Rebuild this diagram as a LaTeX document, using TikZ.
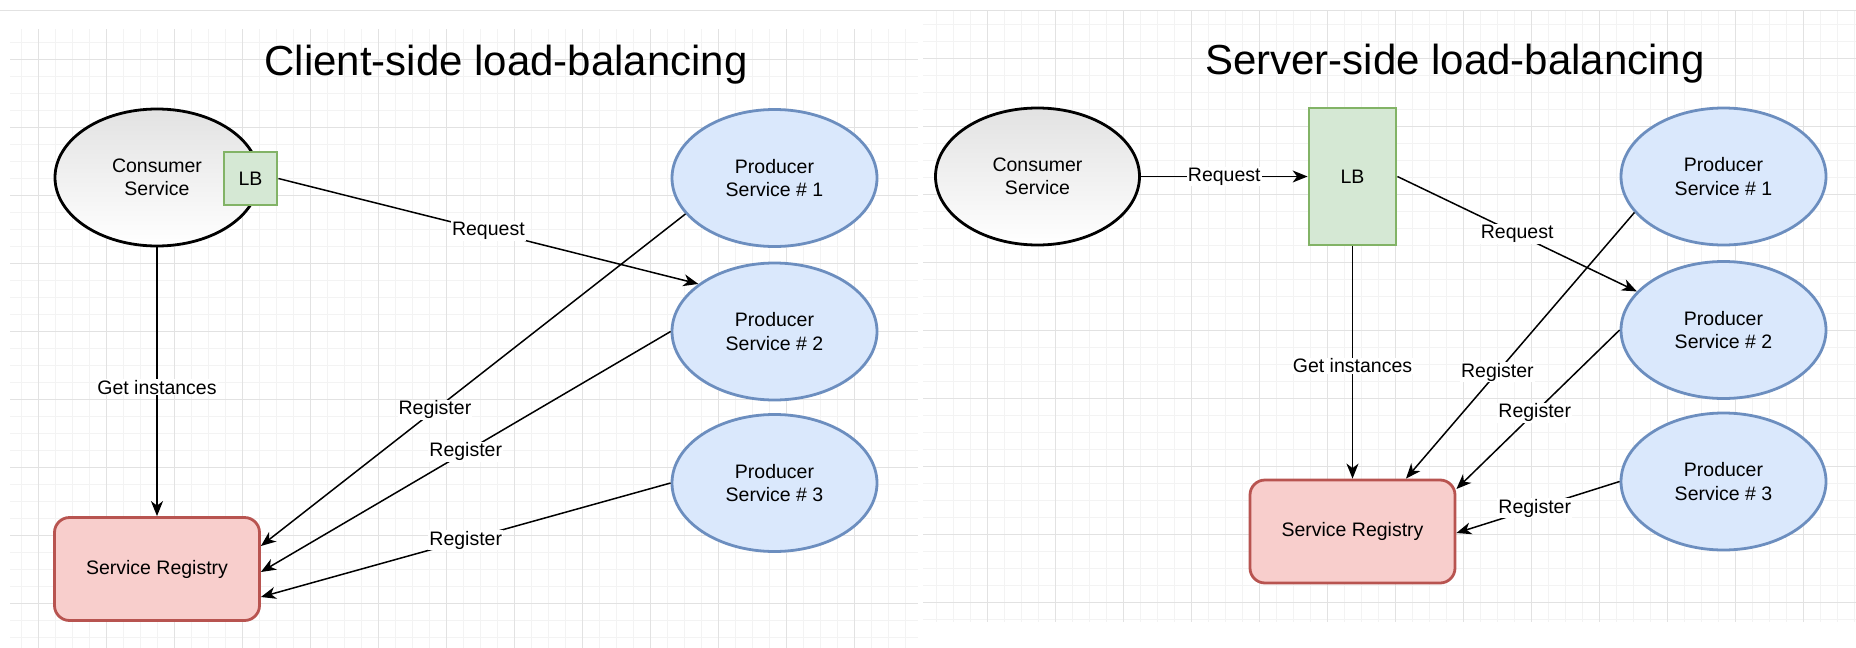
\documentclass[tikz,border=0pt]{standalone}
\usepackage{fontspec}
\setmainfont{Liberation Sans}
\usetikzlibrary{shapes.geometric,arrows.meta}
\definecolor{gridminor}{HTML}{F3F3F3}
\definecolor{gridmajor}{HTML}{E2E2E2}
\definecolor{lbfill}{HTML}{D5E8D4}
\definecolor{lbdraw}{HTML}{82B366}
\definecolor{prodfill}{HTML}{DAE8FC}
\definecolor{proddraw}{HTML}{6C8EBF}
\definecolor{regfill}{HTML}{F8CECC}
\definecolor{regdraw}{HTML}{B85450}
\definecolor{consgray}{HTML}{E2E2E2}
\begin{document}
\begin{tikzpicture}[x=1pt,y=-1pt,
 txt/.style={font=\fontsize{19.5}{23.4}\selectfont, align=center, text=black},
 consumer/.style={txt, ellipse, draw=black, line width=2.8pt, top color=consgray, bottom color=white, minimum width=204pt, minimum height=137pt, inner sep=0pt},
 lbbox/.style={txt, rectangle, draw=lbdraw, fill=lbfill, line width=2.8pt, inner sep=0pt},
 producer/.style={txt, ellipse, draw=proddraw, fill=prodfill, line width=2.8pt, minimum width=205pt, minimum height=137pt, inner sep=0pt},
 registry/.style={txt, rectangle, rounded corners=15pt, draw=regdraw, fill=regfill, line width=2.8pt, minimum width=205pt, minimum height=103pt, inner sep=0pt},
 conn/.style={draw=black, line width=1.5pt, -{Stealth[length=15pt,width=12pt,inset=4.5pt]}},
 lbl/.style={txt, fill=white, inner sep=1pt},
 title/.style={font=\fontsize{42}{50}\selectfont, anchor=base, inner sep=0pt},
 minorline/.style={draw=gridminor, line width=1pt},
 majorline/.style={draw=gridmajor, line width=1pt}
]
\useasboundingbox (0,0) rectangle (1856,648);
\fill[white] (0,0) rectangle (1856,648);

% ---------- grids ----------
\begin{scope}
\clip (10,29) rectangle (918,648);
\foreach \x in {21,38,...,918} \draw[minorline] (\x,29) -- (\x,648);
\foreach \y in {42,59,...,648} \draw[minorline] (10,\y) -- (918,\y);
\foreach \x in {38,106,...,918} \draw[majorline] (\x,29) -- (\x,648);
\foreach \y in {59,127,...,648} \draw[majorline] (10,\y) -- (918,\y);
\end{scope}
\begin{scope}
\clip (923,10) rectangle (1856,622);
\foreach \x in {936,953,...,1856} \draw[minorline] (\x,10) -- (\x,622);
\foreach \y in {24,41,...,622} \draw[minorline] (923,\y) -- (1856,\y);
\foreach \x in {987,1055,...,1856} \draw[majorline] (\x,10) -- (\x,622);
\foreach \y in {58,126,...,622} \draw[majorline] (923,\y) -- (1856,\y);
\end{scope}
\draw[majorline] (0,10) -- (1856,10);

% ---------- left: client-side ----------
\node[title] (t1) at (506,75) {Client-side load-balancing};
\node[consumer] (cons1) at (157,177.5) {Consumer\\Service};
\node[lbbox, minimum width=53pt, minimum height=53pt] (lb1) at (250.5,178.5) {LB};
\node[producer] (p11) at (774.5,178) {Producer\\Service \# 1};
\node[producer] (p12) at (774.5,331.5) {Producer\\Service \# 2};
\node[producer] (p13) at (774.5,483) {Producer\\Service \# 3};
\node[registry] (reg1) at (157,569) {Service Registry};

\draw[conn] (lb1.east) -- node[lbl,pos=0.5] {Request} (p12.148);
\draw[conn] (cons1.south) -- node[lbl,pos=0.52] {Get instances} (reg1.north);
\draw[conn] (p11.202) -- node[lbl,pos=0.59] {Register} ([yshift=23pt]reg1.east);
\draw[conn] (p12.west) -- node[lbl,pos=0.5] {Register} ([yshift=-3pt]reg1.east);
\draw[conn] (p13.west) -- node[lbl,pos=0.5] {Register} ([yshift=-28pt]reg1.east);

% ---------- right: server-side ----------
\node[title] (t2) at (1455,74) {Server-side load-balancing};
\node[consumer] (cons2) at (1037.5,176.5) {Consumer\\Service};
\node[lbbox, minimum width=87pt, minimum height=137pt] (lb2) at (1352.5,176.5) {LB};
\node[producer] (p21) at (1723.5,176.5) {Producer\\Service \# 1};
\node[producer] (p22) at (1723.5,330) {Producer\\Service \# 2};
\node[producer] (p23) at (1723.5,481.5) {Producer\\Service \# 3};
\node[registry] (reg2) at (1352.5,531.5) {Service Registry};

\draw[conn] (cons2.east) -- node[lbl,pos=0.5] {Request} (lb2.west);
\draw[conn] (lb2.east) -- node[lbl,pos=0.5] {Request} (p22.156);
\draw[conn] (lb2.south) -- node[lbl,pos=0.515] {Get instances} (reg2.north);
\draw[conn] (p21.202) -- node[lbl,pos=0.6] {Register} ([xshift=53.5pt]reg2.north);
\draw[conn] (p22.west) -- node[lbl,pos=0.52] {Register} ([yshift=42.5pt]reg2.east);
\draw[conn] (p23.west) -- node[lbl,pos=0.52] {Register} ([yshift=-1.5pt]reg2.east);
\end{tikzpicture}
\end{document}
